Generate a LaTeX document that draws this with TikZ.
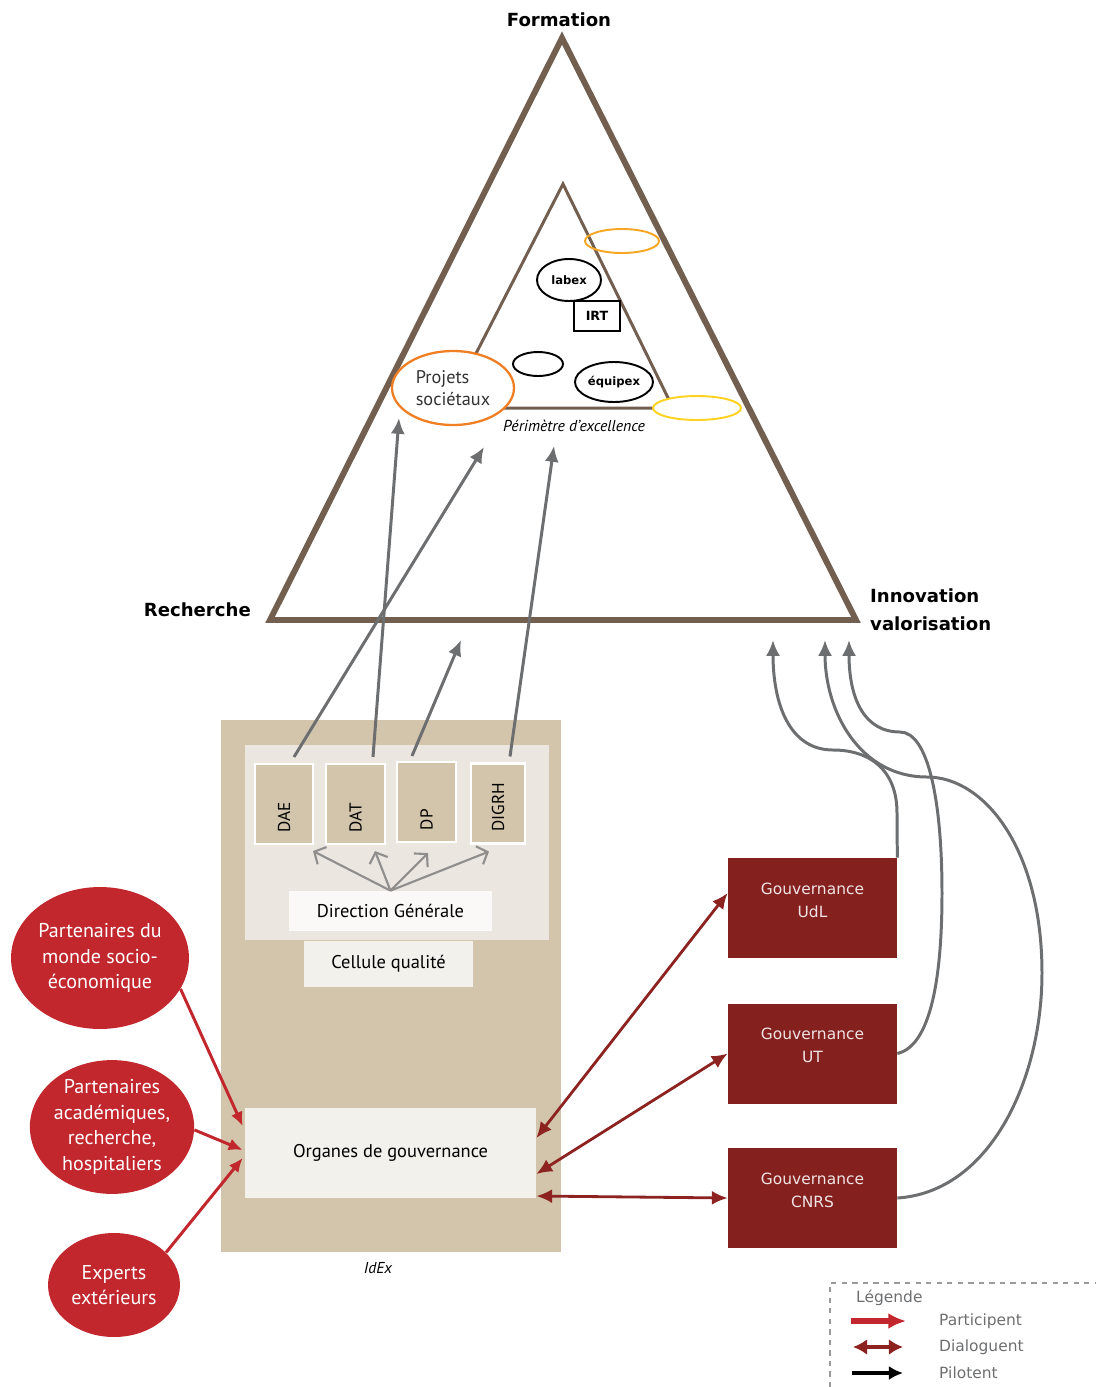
\documentclass[tikz,border=0pt]{standalone}
\usepackage{fontspec}
\setmainfont{PT Sans}
\newfontfamily\verd{DejaVu Sans}
\usetikzlibrary{shapes.geometric,arrows.meta}

\definecolor{brun}{RGB}{115,95,80}
\definecolor{sable}{RGB}{211,197,171}
\definecolor{voile}{RGB}{235,230,223}
\definecolor{creme}{RGB}{250,249,247}
\definecolor{cremeb}{RGB}{243,241,236}
\definecolor{rouge}{RGB}{193,39,45}
\definecolor{bordeaux}{RGB}{132,33,31}
\definecolor{bordeauxfl}{RGB}{140,35,33}
\definecolor{gris}{RGB}{109,110,112}
\definecolor{grisclair}{RGB}{143,142,141}
\definecolor{orangep}{RGB}{240,127,36}
\definecolor{ambre}{RGB}{246,166,35}
\definecolor{jaune}{RGB}{255,210,31}

\tikzset{
  tri/.style={draw=brun, line width=3.4pt, line join=miter},
  sommet/.style={font=\verd\bfseries\fontsize{10.3}{16}\selectfont},
  bulle/.style={ellipse, draw, line width=1.1pt, inner sep=0pt, fill=white},
  petit/.style={font=\verd\bfseries\fontsize{6.6}{8}\selectfont},
  direc/.style={rotate=90, fill=sable, draw=white, line width=1.2pt,
    minimum height=1.16cm, text width=1.12cm, inner xsep=0.24cm,
    align=left, font=\fontsize{9.8}{11}\selectfont},
  bloc/.style={inner sep=0pt, align=center, font=\fontsize{10.5}{12}\selectfont},
  partenaire/.style={ellipse, fill=rouge, text=white, inner sep=0pt,
    align=center, font=\fontsize{11.4}{14.5}\selectfont},
  gouv/.style={fill=bordeaux, text=white!88!bordeaux, minimum width=3.38cm,
    minimum height=2cm, align=center, font=\verd\fontsize{8.8}{13}\selectfont},
  fleche/.style={-{Latex[length=9pt,width=8pt]}, draw=gris, line width=1.7pt},
  dgfleche/.style={-{Straight Barb[length=5pt,width=11pt]}, draw=grisclair, line width=1.2pt},
  participe/.style={-{Latex[length=8pt,width=7pt]}, draw=rouge, line width=1.7pt},
  dialogue/.style={{Latex[length=9pt,width=8pt]}-{Latex[length=9pt,width=8pt]}, draw=bordeauxfl, line width=1.6pt},
  legtxt/.style={text=gris, font=\verd\fontsize{8.8}{10}\selectfont}
}

\begin{document}
\begin{tikzpicture}[x=0.02cm, y=-0.02cm]
\useasboundingbox (0,0) rectangle (1096,1387);

% grand triangle
\coordinate (F) at (562,38);
\coordinate (R) at (270,620);
\coordinate (I) at (856,620);
\draw[tri] (F) -- (R) -- (I) -- cycle;
\node[sommet] (formation) at (559,20) {Formation};
\node[sommet, anchor=east] (recherche) at (257,610) {Recherche};
\node[sommet, anchor=west, align=left] (innovation) at (864,610) {Innovation\\valorisation};

% perimetre d'excellence
\draw[brun, line width=1.7pt] (563,184) -- (448,408) -- (673,408) -- cycle;
\node[font=\itshape\fontsize{9}{11}\selectfont] (perimetre) at (574,426) {Périmètre d’excellence};
\node[bulle, draw=ambre, fill=none, minimum width=1.48cm, minimum height=0.48cm] (haut) at (622,241) {};
\node[bulle, minimum width=1.28cm, minimum height=0.84cm, petit] (labex) at (569,280) {labex};
\node[draw, line width=1.1pt, minimum width=0.92cm, minimum height=0.6cm, inner sep=0pt,
  font=\verd\bfseries\fontsize{7.2}{8}\selectfont] (irt) at (597,316) {IRT};
\node[bulle, minimum width=1cm, minimum height=0.48cm] (vide) at (538,364) {};
\node[bulle, minimum width=1.56cm, minimum height=0.8cm, petit] (equipex) at (614,382) {équipex};
\node[bulle, draw=jaune, minimum width=1.76cm, minimum height=0.48cm] (bas) at (697,408) {};
\node[bulle, draw=orangep, line width=1.3pt, minimum width=2.44cm, minimum height=1.48cm,
  align=left, text=black!80, font=\fontsize{10.4}{12.5}\selectfont] (projets) at (453,388) {Projets\\sociétaux\hspace{6pt}};

% IdEx
\fill[sable] (221,720) rectangle (561,1252);
\fill[voile] (245,745) rectangle (549,940);
\node[font=\itshape\fontsize{9}{11}\selectfont] (idex) at (378,1268) {IdEx};
\node[direc] (dae) at (284,804) {DAE};
\node[direc, minimum height=1.18cm] (dat) at (355.5,804) {DAT};
\node[direc, minimum height=1.18cm] (dp) at (426.5,802) {DP};
\node[direc, minimum height=1.08cm] (digrh) at (498,803.5) {DIGRH};
\node[bloc, fill=creme, minimum width=4.06cm, minimum height=0.8cm] (dg) at (390.5,911) {Direction Générale};
\node[bloc, fill=cremeb, minimum width=3.38cm, minimum height=0.92cm] (cellule) at (388.5,964) {Cellule qualité};
\node[bloc, fill=cremeb, minimum width=5.82cm, minimum height=1.8cm] (organes) at (390.5,1153) {Organes de gouvernance};

\foreach \b/\dx/\dy in {dae/0.58/-0.12, dat/0.39/-0.12, dp/0.03/-0.2, digrh/-0.18/-0.14}
  \draw[dgfleche] (dg.north) -- ([xshift=\dx cm, yshift=\dy cm]\b.west);

% vers le triangle
\coordinate (cible1) at (484,447);
\coordinate (cible2) at (399,418);
\coordinate (cible3) at (461,640);
\coordinate (cible4) at (554,446);
\draw[fleche] ([xshift=0.2cm, yshift=0.12cm]dae.east) -- (cible1);
\draw[fleche] ([xshift=0.35cm, yshift=0.12cm]dat.east) -- (cible2);
\draw[fleche] ([xshift=-0.29cm, yshift=0.1cm]dp.east) -- (cible3);
\draw[fleche] ([xshift=0.24cm, yshift=0.12cm]digrh.east) -- (cible4);

% partenaires
\node[partenaire, minimum width=3.56cm, minimum height=2.84cm] (socio) at (100,958) {Partenaires du\\monde socio-\\économique};
\node[partenaire, minimum width=3.24cm, minimum height=2.56cm] (acad) at (112,1127) {Partenaires\\académiques,\\recherche,\\hospitaliers};
\node[partenaire, minimum width=2.64cm, minimum height=2.08cm] (experts) at (114,1285) {Experts\\extérieurs};
\draw[participe] (socio.-21) -- ([xshift=-0.04cm, yshift=0.54cm]organes.west);
\draw[participe] (acad.-2) -- ([xshift=-0.04cm, yshift=0.06cm]organes.west);
\draw[participe] (experts.32) -- ([xshift=-0.04cm, yshift=-0.1cm]organes.west);

% gouvernances
\node[gouv] (udl) at (812.5,908) {Gouvernance\\UdL\\[-4pt]\mbox{}};
\node[gouv] (ut) at (812.5,1053.5) {Gouvernance\\UT\\[-4pt]\mbox{}};
\node[gouv] (cnrs) at (812.5,1198) {Gouvernance\\CNRS\\[-4pt]\mbox{}};
\draw[dialogue] ([yshift=0.3cm]organes.east) -- ([yshift=0.3cm]udl.west);
\draw[dialogue] ([yshift=-0.42cm]organes.east) -- (ut.west);
\draw[dialogue] ([yshift=-0.86cm]organes.east) -- (cnrs.west);

\coordinate (inno1) at (773,640);
\coordinate (inno2) at (825,640);
\coordinate (inno3) at (849,640);
\draw[fleche] (udl.north east) -- (897,813) .. controls (897,770) and (870,750) .. (833,750)
  .. controls (790,750) and (773,705) .. (inno1);
\draw[fleche] (ut.east) .. controls (935,1045) and (942,960) .. (942,893)
  .. controls (942,800) and (928,732) .. (900,732) .. controls (865,732) and (849,700) .. (inno3);
\draw[fleche] (cnrs.east) .. controls (990,1192) and (1042,1080) .. (1042,973)
  .. controls (1042,850) and (985,777) .. (927,777) .. controls (860,777) and (825,712) .. (inno2);

% legende
\draw[gris!70, dashed, line width=0.9pt] (1100,1283) -- (830,1283) -- (830,1390);
\node[legtxt, anchor=west] (legende) at (850,1298) {Légende};
\node[legtxt, anchor=west] (lpart) at (933,1321) {Participent};
\node[legtxt, anchor=west] (ldial) at (933,1347) {Dialoguent};
\node[legtxt, anchor=west] (lpil) at (933,1373) {Pilotent};
\draw[rouge, line width=3pt, -{Latex[length=10pt,width=9pt]}] ([xshift=-1.64cm]lpart.west) -- ([xshift=-0.54cm]lpart.west);
\draw[bordeauxfl, line width=1.8pt, {Latex[length=8pt,width=9pt]}-{Latex[length=8pt,width=9pt]}] ([xshift=-1.6cm]ldial.west) -- ([xshift=-0.6cm]ldial.west);
\draw[black, line width=2.4pt, -{Latex[length=8pt,width=8pt]}] ([xshift=-1.62cm]lpil.west) -- ([xshift=-0.6cm]lpil.west);
\end{tikzpicture}
\end{document}
